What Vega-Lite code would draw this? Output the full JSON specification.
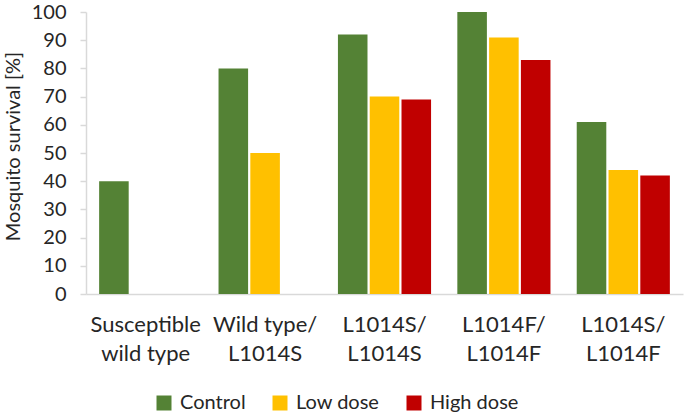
{
  "$schema": "https://vega.github.io/schema/vega-lite/v6.json",
  "width": 597,
  "height": 282,
  "autosize": {"type": "none"},
  "padding": {"left": 86, "top": 12, "right": 2, "bottom": 121},
  "background": "white",
  "config": {
    "font": "Lato",
    "view": {"stroke": null},
    "axis": {"labelColor": "#262626", "titleColor": "#262626", "domainColor": "#D9D9D9", "tickColor": "#D9D9D9", "domainWidth": 1.5, "tickWidth": 1.5}
  },
  "data": {
    "values": [
      {"genotype": "Susceptible|wild type", "treatment": "Control", "survival": 40},
      {"genotype": "Wild type/|L1014S", "treatment": "Control", "survival": 80},
      {"genotype": "Wild type/|L1014S", "treatment": "Low dose", "survival": 50},
      {"genotype": "L1014S/|L1014S", "treatment": "Control", "survival": 92},
      {"genotype": "L1014S/|L1014S", "treatment": "Low dose", "survival": 70},
      {"genotype": "L1014S/|L1014S", "treatment": "High dose", "survival": 69},
      {"genotype": "L1014F/|L1014F", "treatment": "Control", "survival": 100},
      {"genotype": "L1014F/|L1014F", "treatment": "Low dose", "survival": 91},
      {"genotype": "L1014F/|L1014F", "treatment": "High dose", "survival": 83},
      {"genotype": "L1014S/|L1014F", "treatment": "Control", "survival": 61},
      {"genotype": "L1014S/|L1014F", "treatment": "Low dose", "survival": 44},
      {"genotype": "L1014S/|L1014F", "treatment": "High dose", "survival": 42}
    ]
  },
  "mark": {"type": "bar"},
  "encoding": {
    "x": {
      "field": "genotype",
      "type": "nominal",
      "sort": ["Susceptible|wild type", "Wild type/|L1014S", "L1014S/|L1014S", "L1014F/|L1014F", "L1014S/|L1014F"],
      "scale": {"paddingInner": 0.22, "paddingOuter": 0.11},
      "axis": {
        "title": null,
        "labelAngle": 0,
        "labelExpr": "split(datum.value, '|')",
        "ticks": false,
        "labelPadding": 37,
        "labelFontSize": 22,
        "labelLineHeight": 29,
        "labelBaseline": "alphabetic"
      }
    },
    "xOffset": {
      "field": "treatment",
      "type": "nominal",
      "sort": ["Control", "Low dose", "High dose"],
      "scale": {"domain": ["Control", "Low dose", "High dose"], "paddingInner": 0.07}
    },
    "y": {
      "field": "survival",
      "type": "quantitative",
      "scale": {"domain": [0, 100]},
      "axis": {
        "values": [0, 10, 20, 30, 40, 50, 60, 70, 80, 90, 100],
        "grid": false,
        "tickSize": 6,
        "labelPadding": 14,
        "labelFontSize": 20,
        "title": "Mosquito survival [%]",
        "titleFontSize": 20,
        "titleFontWeight": "normal",
        "titleX": -67,
        "titleY": 134,
        "titleAlign": "center",
        "titleBaseline": "alphabetic"
      }
    },
    "color": {
      "field": "treatment",
      "type": "nominal",
      "scale": {"domain": ["Control", "Low dose", "High dose"], "range": ["#548235", "#FFC000", "#C00000"]},
      "legend": {
        "orient": "none",
        "legendX": 68,
        "legendY": 381,
        "direction": "horizontal",
        "title": null,
        "padding": 0,
        "symbolType": "square",
        "symbolSize": 225,
        "symbolStrokeWidth": 0,
        "labelFontSize": 20,
        "labelOffset": 6,
        "columnPadding": 24,
        "labelColor": "#262626"
      }
    }
  }
}
